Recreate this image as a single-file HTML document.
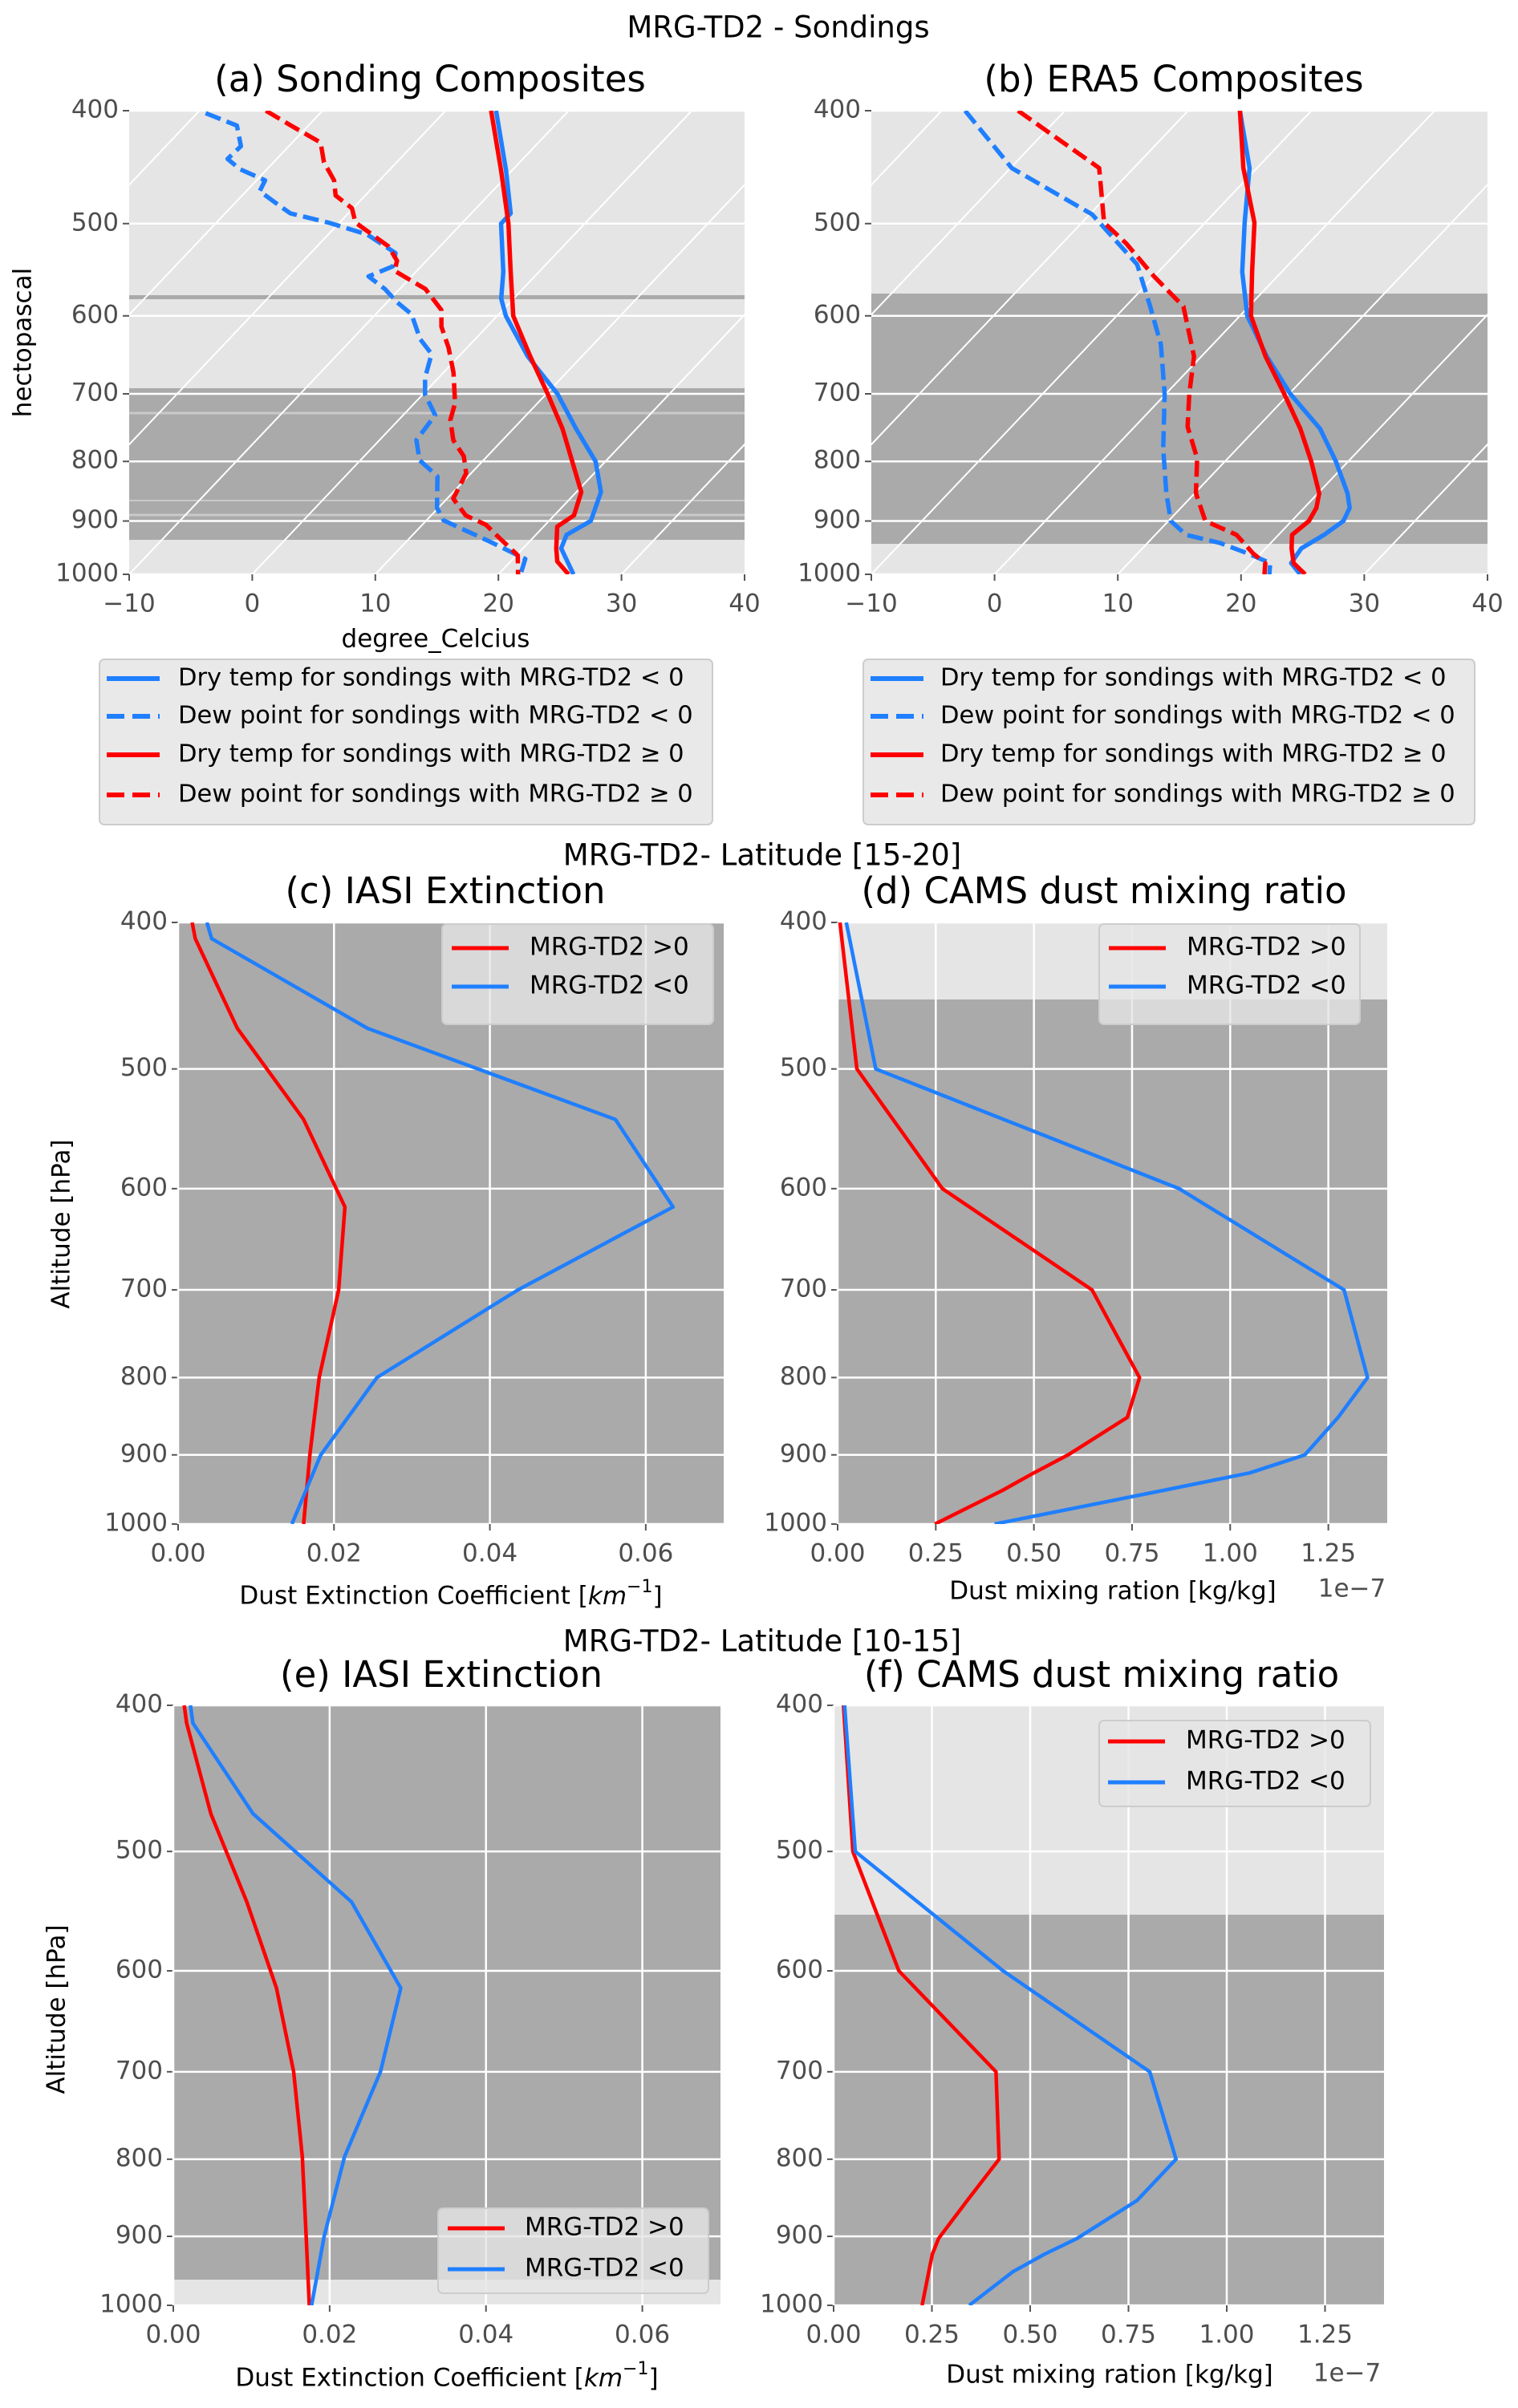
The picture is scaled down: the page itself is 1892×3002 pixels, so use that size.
<!DOCTYPE html>
<html><head><meta charset="utf-8"><title>MRG-TD2 Soundings</title>
<style>
html,body{margin:0;padding:0;background:#fff;}
svg{display:block;font-family:"DejaVu Sans","Liberation Sans",sans-serif;}
.tk{font-size:31px;fill:#4d4d4d;}
.lab{font-size:31px;fill:#000;}
.ttl{font-size:45px;fill:#000;}
.sup{font-size:37px;fill:#000;}
.lg{font-size:30px;fill:#000;}
</style></head>
<body>
<svg id="fig" width="1892" height="3002" viewBox="0 0 1892 3002" xmlns="http://www.w3.org/2000/svg"></svg>
<script>
// ---------- Panel (a) sounding composites ----------
const aBlueDryP=[400,450,490,500,550,580,600,650,700,750,800,850,900,925,950,1000];
const aBlueDryT=[-15.9,-10.5,-6.8,-6.8,-2.9,-1.0,0.7,5.6,10.9,15.1,19.2,22.0,23.4,22.5,23.1,26.1];
const aRedDryP=[400,450,500,550,600,650,700,750,800,850,890,910,950,975,1000];
const aRedDryT=[-16.3,-10.9,-6.2,-2.3,1.3,5.8,10.1,14.0,17.3,20.4,21.6,21.1,22.7,23.8,25.7];
const aBlueDewP=[402,412,429,440,449,459,469,482,490,499,511,530,544,555,569,584,598,628,647,678,701,730,767,798,824,877,899,936,970,1000];
const aBlueDewT=[-39.3,-35.8,-33.9,-34.0,-32.2,-29.3,-28.9,-26.3,-24.7,-20.9,-16.8,-13.1,-12.3,-13.5,-11.2,-9.2,-7.1,-4.5,-2.4,-1.1,0.2,2.6,3.0,4.8,7.5,9.9,11.4,16.6,21.0,21.8];
const aRedDewP=[400,412,426,443,459,473,485,499,523,538,549,569,593,613,639,671,713,737,767,792,819,861,890,907,932,963,1000];
const aRedDewT=[-34.6,-31.4,-27.7,-25.9,-23.7,-22.4,-20.1,-18.7,-14.2,-12.4,-11.8,-7.9,-5.0,-3.7,-1.5,0.8,3.3,4.2,6.0,8.1,9.6,10.5,12.8,15.2,17.4,20.1,21.6];
// ---------- Panel (b) ERA5 composites ----------
const bDryP=[400,448,499,550,600,650,700,750,800,852,877,900,925,950,978,1000];
const bBlueDryT=[-15.8,-10.6,-6.8,-3.2,0.6,5.3,10.1,15.2,19.0,22.4,23.7,24.2,23.7,22.9,23.2,24.8];
const bRedDryT=[-15.8,-11.1,-6.0,-2.4,0.9,5.2,9.6,13.6,17.0,20.1,21.0,21.4,21.1,22.1,23.4,25.2];
const bBlueDewP=[400,448,491,542,589,635,700,780,852,900,925,940,960,978,1000];
const bBlueDewT=[-38.1,-29.9,-19.8,-12.3,-8.0,-4.2,-0.1,4.0,7.7,10.2,12.5,15.9,19.0,21.5,22.3];
const bRedDewP=[400,448,499,520,555,589,650,700,747,795,852,900,925,960,978,1000];
const bRedDewT=[-33.8,-22.8,-18.2,-14.8,-10.0,-5.3,-0.6,1.9,4.3,7.5,10.1,13.0,16.6,19.4,21.1,21.9];
const tempTicks=[-10,0,10,20,30,40];
const presTicks=[400,500,600,700,800,900,1000];
// ---------- Panel (c) IASI extinction 15-20 ----------
const cP=[400,410,470,540,617,700,800,900,1000];
const cRed=[0.0018,0.0022,0.0076,0.0161,0.0214,0.0206,0.0181,0.0169,0.0161];
const cBlue=[0.0037,0.0043,0.0243,0.0561,0.0635,0.0436,0.0255,0.0183,0.0146];
const extTicks=[0,0.02,0.04,0.06];
const extTickLabels=["0.00","0.02","0.04","0.06"];
// ---------- Panel (d) CAMS 15-20 ----------
const dP=[400,500,600,700,800,850,900,925,950,1000];
const dRed=[0.006,0.049,0.267,0.648,0.769,0.738,0.587,0.50,0.42,0.248];
const dBlue=[0.022,0.097,0.87,1.29,1.35,1.275,1.19,1.05,0.83,0.40];
const mixTicks=[0,0.25,0.5,0.75,1.0,1.25];
const mixTickLabels=["0.00","0.25","0.50","0.75","1.00","1.25"];
// ---------- Panel (e) IASI extinction 10-15 ----------
const eP=[400,411,472,540,616,700,797,900,1000];
const eRed=[0.0014,0.0017,0.0048,0.0094,0.0132,0.0154,0.0165,0.0170,0.0174];
const eBlue=[0.0022,0.0025,0.0102,0.0228,0.0291,0.0265,0.0219,0.0193,0.0177];
// ---------- Panel (f) CAMS 10-15 ----------
const fP=[400,500,600,700,800,852,903,925,950,1000];
const fRed=[0.025,0.049,0.166,0.413,0.421,0.34,0.267,0.251,0.242,0.225];
const fBlue=[0.028,0.055,0.431,0.804,0.871,0.772,0.619,0.536,0.456,0.345];

const NS="http://www.w3.org/2000/svg";
const svg=document.getElementById('fig');
const BLUE="#1f7fff", RED="#ff0000", LIGHT="#e5e5e5", DARK="#aaaaaa";
function mk(tag,attrs,parent){const e=document.createElementNS(NS,tag);for(const k in attrs)e.setAttribute(k,attrs[k]);(parent||svg).appendChild(e);return e;}
function txt(s,x,y,cls,anchor,parent,extra){const t=mk('text',Object.assign({x:x,y:y,class:cls,'text-anchor':anchor||'middle','dominant-baseline':'middle'},extra||{}),parent);t.textContent=s;return t;}
function yLog(top,bot){return p=>top+(bot-top)*Math.log(p/400)/Math.log(1000/400);}
function xLin(l,r,min,max){return v=>l+(r-l)*(v-min)/(max-min);}

function axesFrame(name,L,R,T,B,bands){
  const g=mk('g',{});
  
  
  const bg=mk('rect',{x:L,y:T,width:R-L,height:B-T,fill:LIGHT},g);
  
  
  bands.forEach(b=>{const r=mk('rect',{x:L,y:b[0],width:R-L,height:b[1]-b[0],fill:b[2]||DARK},g);
    
    });
  const cp=mk('clipPath',{id:'clip-'+name},g);
  mk('rect',{x:L,y:T,width:R-L,height:B-T},cp);
  return g;
}
function yAxis(g,L,ys,withGrid,R){
  presTicks.forEach(p=>{const y=ys(p);
    if(withGrid){const gl=mk('line',{x1:L,x2:R,y1:y,y2:y,stroke:'#fff','stroke-width':2.5},g);
      
      }
    mk('line',{x1:L-8,x2:L,y1:y,y2:y,stroke:'#555','stroke-width':2},g);
    const t=txt(String(p),L-13,y,'tk','end',g);
    
    });
}
function xAxis(g,B,xs,ticks,labels,T,grid){
  ticks.forEach((v,i)=>{const x=xs(v);
    if(grid){const gl=mk('line',{x1:x,x2:x,y1:T,y2:B,stroke:'#fff','stroke-width':2.5},g);
      
      }
    mk('line',{x1:x,x2:x,y1:B,y2:B+8,stroke:'#555','stroke-width':2},g);
    const t=txt(labels[i],x,B+38,'tk','middle',g);
    
    });
}
function series(g,name,xsArr,ysArr,color,w,dash,clipName){
  const d=xsArr.map((x,i)=>(i?'L':'M')+x.toFixed(1)+' '+ysArr[i].toFixed(1)).join(' ');
  const a={d:d,fill:'none',stroke:color,'stroke-width':w,'stroke-linejoin':'round','clip-path':'url(#clip-'+clipName+')'};
  if(dash)a['stroke-dasharray']=dash;
  const p=mk('path',a,g);
  
  
  return p;
}
function legend(name,x,y,w,h,items,fs,lineX,lineW,textX,bg){
  const g=mk('g',{});
  
  
  mk('rect',{x:x,y:y,width:w,height:h,rx:6,fill:bg,stroke:'#cccccc','stroke-width':2},g);
  items.forEach(it=>{
    const a={x1:lineX,x2:lineX+lineW,y1:it.y,y2:it.y,stroke:it.c,'stroke-width':it.w||5};
    if(it.dash)a['stroke-dasharray']=it.dash;
    const l=mk('line',a,g);
    
    
    const t=txt(it.t,textX,it.y,'lg','start',g,{style:'font-size:'+fs+'px'});
    
    
  });
}

// ---------- Skew-T panels ----------
const K=38.97;
function skewPanel(name,L,R,T,B,bands,extraLines,curves,title,titleX){
  const g=axesFrame(name,L,R,T,B,bands);
  const ys=yLog(T,B), xs=xLin(L,R,-10,40);
  const sx=(t,p)=>xs(t+K*Math.log(1000/p));
  extraLines.forEach(e=>{mk('line',{x1:L,x2:R,y1:e[0],y2:e[0],stroke:e[1],'stroke-width':e[2]},g);});
  for(let t=-100;t<=40;t+=10){
    const l=mk('line',{x1:sx(t,1000),y1:ys(1000),x2:sx(t,400),y2:ys(400),stroke:'#fff','stroke-width':2,'clip-path':'url(#clip-'+name+')'},g);
    
    
  }
  yAxis(g,L,ys,true,R);
  xAxis(g,B,xs,tempTicks,tempTicks.map(v=>v<0?'\u2212'+(-v):String(v)),T,false);
  curves.forEach(c=>series(g,c.n,c.T.map((t,i)=>sx(t,c.P[i])),c.P.map(ys),c.c,5.5,c.dash,name));
  const tt=txt(title,titleX,102,'ttl','middle',g);
  
  
}
skewPanel('panel-a-soundings',161,928,138,716,
  [[484,673],[368,373]],
  [[515,'#c9c9c9',3],[624,'#c9c9c9',2],[642,'#c9c9c9',3]],
  [{n:'blue-dewpoint-line',P:aBlueDewP,T:aBlueDewT,c:BLUE,dash:'20 8'},
   {n:'red-dewpoint-line',P:aRedDewP,T:aRedDewT,c:RED,dash:'20 8'},
   {n:'blue-dry-temp-line',P:aBlueDryP,T:aBlueDryT,c:BLUE},
   {n:'red-dry-temp-line',P:aRedDryP,T:aRedDryT,c:RED}],
  '(a) Sonding Composites',536);
skewPanel('panel-b-era5',1086,1854,138,716,
  [[366,678]],[],
  [{n:'blue-dewpoint-line',P:bBlueDewP,T:bBlueDewT,c:BLUE,dash:'20 8'},
   {n:'red-dewpoint-line',P:bRedDewP,T:bRedDewT,c:RED,dash:'20 8'},
   {n:'blue-dry-temp-line',P:bDryP,T:bBlueDryT,c:BLUE},
   {n:'red-dry-temp-line',P:bDryP,T:bRedDryT,c:RED}],
  '(b) ERA5 Composites',1463);

let t;
t=txt('MRG-TD2 - Sondings',970,36,'sup');


t=txt('hectopascal',30,427,'lab','middle',null,{transform:'rotate(-90 30 427)'});


t=txt('degree_Celcius',543,798,'lab');



const sndItems=()=>[
  {t:'Dry temp for sondings with MRG-TD2 < 0',y:846,c:BLUE,w:6},
  {t:'Dew point for sondings with MRG-TD2 < 0',y:893,c:BLUE,w:6,dash:'22 10'},
  {t:'Dry temp for sondings with MRG-TD2  \u2265  0',y:941,c:RED,w:6},
  {t:'Dew point for sondings with MRG-TD2  \u2265  0',y:991,c:RED,w:6,dash:'22 10'}];
legend('legend-a',124,822,764,206,sndItems(),30.5,133,66,222,'#e9e9e9');
legend('legend-b',1076,822,762,206,sndItems(),30.5,1085,66,1172,'#e9e9e9');

// ---------- Profile panels ----------
function profPanel(name,L,R,T,B,bands,xmax,ticks,labels,P,red,blue,title,titleX,titleY){
  const g=axesFrame(name,L,R,T,B,bands);
  const ys=yLog(T,B), xs=xLin(L,R,0,xmax);
  yAxis(g,L,ys,true,R);
  xAxis(g,B,xs,ticks,labels,T,true);
  series(g,'red-line-mrg-positive',red.map(xs),P.map(ys),RED,4.5,null,name);
  series(g,'blue-line-mrg-negative',blue.map(xs),P.map(ys),BLUE,4.5,null,name);
  const tt=txt(title,titleX,titleY,'ttl','middle',g);
  
  
}
profPanel('panel-c-iasi',222,902,1150,1900,[[1150,1900]],0.07,extTicks,extTickLabels,cP,cRed,cBlue,'(c) IASI Extinction',555,1114);
profPanel('panel-d-cams',1044,1729,1150,1900,[[1246,1900]],1.4,mixTicks,mixTickLabels,dP,dRed,dBlue,'(d) CAMS dust mixing ratio',1376,1114);
profPanel('panel-e-iasi',216,898,2126,2874,[[2126,2842]],0.07,extTicks,extTickLabels,eP,eRed,eBlue,'(e) IASI Extinction',550,2091);
profPanel('panel-f-cams',1039,1725,2126,2874,[[2387,2874]],1.4,mixTicks,mixTickLabels,fP,fRed,fBlue,'(f) CAMS dust mixing ratio',1373,2091);

const mrgItems=(y1,y2)=>[{t:'MRG-TD2 >0',y:y1,c:RED,w:5},{t:'MRG-TD2 <0',y:y2,c:BLUE,w:5}];
legend('legend-c',551,1152,338,125,mrgItems(1182,1230),31,563,71,660,'rgba(229,229,229,0.8)');
legend('legend-d',1370,1152,325,125,mrgItems(1182,1230),31,1382,71,1479,'rgba(229,229,229,0.8)');
legend('legend-e',546,2753,337,106,mrgItems(2778,2829),31,558,71,654,'rgba(229,229,229,0.8)');
legend('legend-f',1370,2145,338,107,mrgItems(2171,2222),31,1381,71,1478,'rgba(229,229,229,0.8)');

const labs=[
 ['MRG-TD2- Latitude [15-20]',950,1068,'sup',null,'section-title'],
 ['MRG-TD2- Latitude [10-15]',950,2048,'sup',null,'section-title'],
 ['Altitude [hPa]',78,1526,'lab',-90,'y-axis-title'],
 ['Altitude [hPa]',72,2505,'lab',-90,'y-axis-title'],
 ['Dust mixing ration [kg/kg]',1387,1985,'lab',null,'x-axis-title'],
 ['Dust mixing ration [kg/kg]',1383,2962,'lab',null,'x-axis-title'],
 ['1e\u22127',1685,1982,'tk',null,'x-offset-label'],
 ['1e\u22127',1679,2960,'tk',null,'x-offset-label']];
labs.forEach(a=>{
  const ex=a[4]?{transform:'rotate('+a[4]+' '+a[1]+' '+a[2]+')'}:{};
  const e=txt(a[0],a[1],a[2],a[3],'middle',null,ex);
  
  
});
[[562,1991],[557,2966]].forEach(pos=>{
  const e=mk('text',{x:pos[0],y:pos[1],class:'lab','text-anchor':'middle','dominant-baseline':'middle'});
  
  
  e.appendChild(document.createTextNode('Dust Extinction Coefficient ['));
  const s=mk('tspan',{'font-style':'italic'},e); s.textContent='km';
  const s2=mk('tspan',{dy:-12,'font-size':'22px'},e); s2.textContent='\u22121';
  const s3=mk('tspan',{dy:12},e); s3.textContent=']';
});
</script>
</body></html>
